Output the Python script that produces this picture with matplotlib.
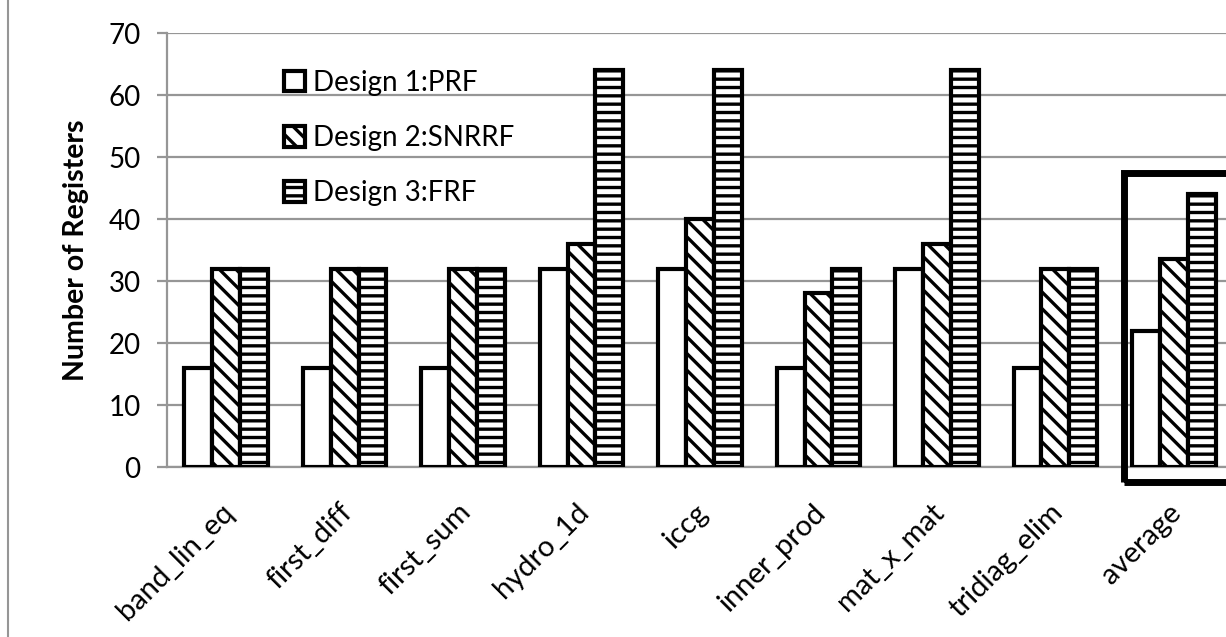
import numpy as np
import matplotlib
matplotlib.use("Agg")
import matplotlib.pyplot as plt
import matplotlib.transforms as mtransforms
from matplotlib.patches import Rectangle
from matplotlib.lines import Line2D

plt.rcParams['font.family'] = ['Lato', 'DejaVu Sans']
plt.rcParams['hatch.linewidth'] = 2.4
plt.rcParams['hatch.color'] = 'black'

# data
benchmarks = ["band_lin_eq", "first_diff", "first_sum", "hydro_1d", "iccg",
              "inner_prod", "mat_x_mat", "tridiag_elim", "average"]
prf = [16, 16, 16, 32, 32, 16, 32, 16, 22]
snrrf = [32, 32, 32, 36, 40, 28, 36, 32, 33.5]
frf = [32, 32, 32, 64, 64, 32, 64, 32, 44]
series_names = ["Design 1:PRF", "Design 2:SNRRF", "Design 3:FRF"]

W, H = 1226, 637
fig = plt.figure(figsize=(W / 100, H / 100), dpi=100)
# axes run a bit past the right edge, like the cropped original
ax = fig.add_axes([167 / W, 1 - 467 / H, 1066 / W, 434 / H])

x = np.arange(len(benchmarks))
bw = 0.235
edge = dict(edgecolor='black', linewidth=3, zorder=3)
b1 = ax.bar(x - bw, prf, bw, color='white', label=series_names[0], **edge)
b2 = ax.bar(x, snrrf, bw, color='white', hatch='\\\\', label=series_names[1], **edge)
b3 = ax.bar(x + bw, frf, bw, color='white', hatch='--', label=series_names[2], **edge)

ax.set_xlim(-0.5, len(benchmarks) - 0.5)
ax.set_ylim(0, 70)
ax.set_yticks(range(0, 71, 10))
ax.yaxis.grid(True, color='#969696', linewidth=1.6)
ax.set_axisbelow(True)
for s in ['top', 'right']:
    ax.spines[s].set_visible(False)
for s in ['left', 'bottom']:
    ax.spines[s].set_color('#969696')
    ax.spines[s].set_linewidth(1.6)
ax.tick_params(axis='y', length=7, width=1.6, color='#969696', pad=12, labelsize=20)
ax.tick_params(axis='x', length=0, pad=23, labelsize=21)
ax.set_xticks(x)
ax.set_xticklabels(benchmarks, rotation=45, ha='right', rotation_mode='anchor')
shift = mtransforms.ScaledTranslation(-6 / 100, 0, fig.dpi_scale_trans)
for lbl in ax.get_xticklabels():
    lbl.set_transform(lbl.get_transform() + shift)
ax.set_ylabel("Number of Registers", fontsize=20.5, fontweight='bold', labelpad=14)

# highlight box around the average group
box = Rectangle((7.58, -2.4), 1.0, 49.8, fill=False, edgecolor='black',
                linewidth=5, clip_on=False, zorder=5)
ax.add_patch(box)

leg = ax.legend(loc='upper left', bbox_to_anchor=(270 / W, 1 - 56 / H),
                bbox_transform=fig.transFigure, frameon=False, fontsize=20,
                handlelength=0.75, handleheight=0.75, handletextpad=0.3,
                labelspacing=1.05, borderpad=0)

# thin border line at far left
fig.add_artist(Line2D([8 / W, 8 / W], [0, 1], color='#969696', linewidth=1.5))

fig.savefig("out.png", dpi=100)
